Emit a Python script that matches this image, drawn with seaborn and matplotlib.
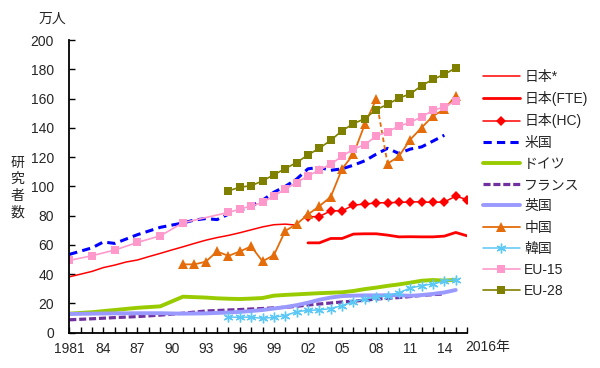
import numpy as np
import pandas as pd
import matplotlib
matplotlib.use("Agg")
import matplotlib.pyplot as plt
import seaborn as sns

# ---------------- data (万人) ----------------
jp_star_years = list(range(1981, 2002))
jp_star = [38.2, 40.0, 41.9, 44.5, 46.2, 48.3, 49.7, 52.0, 54.2, 56.5, 58.7,
           61.0, 63.2, 65.0, 66.5, 68.3, 70.3, 72.3, 73.8, 74.2, 73.5]

jp_fte_years = list(range(2002, 2017))
jp_fte = [61.4, 61.4, 64.4, 64.4, 67.4, 67.6, 67.6, 66.7, 65.5, 65.6, 65.5, 65.5, 66.0, 68.5, 66.2]

jp_hc_years = list(range(2002, 2017))
jp_hc = [79.2, 79.4, 83.3, 83.3, 87.2, 87.9, 88.7, 88.9, 89.0, 89.4, 89.4, 89.0, 89.4, 93.3, 91.0]

us_years = [1981, 1983, 1984, 1985, 1987, 1989, 1991, 1992, 1993, 1994, 1995, 1996, 1997, 1998,
            1999, 2000, 2001, 2002, 2003, 2004, 2005, 2006, 2007, 2008, 2009, 2010, 2011, 2012,
            2013, 2014]
us = [53.5, 58.0, 62.0, 61.0, 67.0, 72.0, 75.0, 77.0, 78.0, 77.3, 81.0, 83.5, 86.5, 90.5,
      96.0, 100.0, 105.0, 112.0, 113.0, 111.0, 112.0, 114.5, 117.5, 122.0, 126.0, 122.5, 125.5,
      127.0, 131.0, 135.0]

de_years = [1981, 1983, 1985, 1987, 1989, 1991, 1992, 1993, 1994, 1995, 1996, 1997, 1998, 1999,
            2000, 2001, 2002, 2003, 2004, 2005, 2006, 2007, 2008, 2009, 2010, 2011, 2012, 2013,
            2014, 2015]
de = [13.0, 14.0, 15.5, 17.0, 18.0, 24.6, 24.3, 24.0, 23.5, 23.2, 23.0, 23.3, 23.7, 25.3,
      25.8, 26.2, 26.6, 27.0, 27.3, 27.6, 28.5, 29.8, 30.8, 32.0, 33.0, 34.2, 35.5, 36.0,
      35.6, 36.2]

fr_years = [1981, 1983, 1985, 1987, 1989, 1991, 1993, 1995, 1996, 1997, 1998, 1999, 2000, 2001,
            2002, 2003, 2004, 2005, 2006, 2007, 2008, 2009, 2010, 2011, 2012, 2013, 2014]
fr = [8.8, 9.5, 10.3, 11.0, 12.0, 13.3, 14.8, 15.5, 15.8, 16.2, 16.5, 17.0, 17.3, 18.0,
      18.9, 19.6, 20.3, 21.0, 21.5, 22.2, 23.0, 23.5, 24.0, 24.7, 25.5, 26.0, 26.5]

uk_years = [1981, 1983, 1985, 1987, 1989, 1991, 1993, 1995, 1996, 1997, 1998, 1999, 2000, 2001,
            2002, 2003, 2004, 2005, 2006, 2007, 2008, 2009, 2010, 2011, 2012, 2013, 2014, 2015]
uk = [12.8, 13.0, 13.2, 13.3, 13.3, 13.0, 13.2, 13.8, 14.2, 14.8, 15.5, 16.5, 17.5, 18.8,
      20.5, 22.5, 24.0, 25.0, 25.3, 25.5, 25.5, 25.6, 25.6, 25.2, 25.7, 26.5, 27.5, 29.2]

cn_years_a = list(range(1991, 2009))
cn_a = [46.7, 46.7, 48.5, 55.5, 52.5, 55.5, 59.0, 48.8, 53.0, 69.6, 74.2, 80.8, 86.5, 92.8,
        112.0, 122.0, 142.5, 159.5]
cn_years_b = list(range(2009, 2016))
cn_b = [115.5, 120.6, 132.0, 140.2, 148.1, 152.7, 162.0]

kr_years = list(range(1995, 2016))
kr = [10.6, 10.6, 10.6, 9.8, 10.5, 11.7, 14.3, 15.3, 15.5, 16.5, 18.5, 21.2, 23.0, 24.3,
      25.3, 27.3, 30.5, 32.2, 33.3, 35.2, 36.2]

eu15_years = [1981, 1983, 1985, 1987, 1989, 1991] + list(range(1995, 2016))
eu15 = [49.4, 52.6, 56.5, 61.7, 66.2, 75.1, 82.2, 84.4, 86.7, 89.0, 93.5, 98.1, 102.6, 107.2,
        111.2, 115.2, 120.6, 125.4, 128.6, 134.3, 137.5, 141.1, 143.8, 147.5, 152.0, 154.3, 158.4]

eu28_years = list(range(1995, 2016))
eu28 = [96.9, 99.5, 100.4, 103.8, 107.9, 112.2, 116.3, 121.5, 126.1, 131.5, 138.1, 142.9,
        146.3, 152.5, 156.0, 160.4, 163.2, 168.9, 173.2, 176.6, 181.0]

xtick_years = [1981, 1984, 1987, 1990, 1993, 1996, 1999, 2002, 2005, 2008, 2011, 2014]
xtick_labels = ["1981", "84", "87", "90", "93", "96", "99", "02", "05", "08", "11", "14"]
last_label = "2016年"
ytick_vals = list(range(0, 201, 20))

# ---------------- style ----------------
sns.set_style("white")
plt.rcParams["font.family"] = ["Liberation Sans", "Noto Sans CJK JP", "DejaVu Sans"]

fig = plt.figure(figsize=(6.0, 3.68), dpi=100)
ax = fig.add_axes([0.1155, 0.096, 0.663, 0.795])

def draw(years, vals, label, **kw):
    df = pd.DataFrame({"year": years, "value": vals})
    sns.lineplot(data=df, x="year", y="value", ax=ax, label=label, errorbar=None,
                 sort=True, **kw)
    return ax.lines[-1]

h = {}
h["日本*"] = draw(jp_star_years, jp_star, "日本*", color="#FF0000", linewidth=1.1)
h["日本(FTE)"] = draw(jp_fte_years, jp_fte, "日本(FTE)", color="#FF0000", linewidth=2.0)
h["日本(HC)"] = draw(jp_hc_years, jp_hc, "日本(HC)", color="#FF0000", linewidth=1.1,
                    marker="D", markersize=5, markeredgewidth=0)
ln = draw(us_years, us, "米国", color="#0000FF", linewidth=2.2)
ln.set_dashes([2.7, 1.7])
h["米国"] = ln
h["ドイツ"] = draw(de_years, de, "ドイツ", color="#99CC00", linewidth=2.8)
ln = draw(fr_years, fr, "フランス", color="#7030A0", linewidth=2.3)
ln.set_dashes([2.2, 0.9])
h["フランス"] = ln
h["英国"] = draw(uk_years, uk, "英国", color="#9999FF", linewidth=2.8)
h["中国"] = draw(cn_years_a, cn_a, "中国", color="#E46C0A", linewidth=1.3,
                marker="^", markersize=6.5, markeredgewidth=0)
draw(cn_years_b, cn_b, "_nolegend_", color="#E46C0A", linewidth=1.3,
     marker="^", markersize=6.5, markeredgewidth=0)
ln = draw([cn_years_a[-1], cn_years_b[0]], [cn_a[-1], cn_b[0]], "_nolegend_",
          color="#E46C0A", linewidth=1.3)
ln.set_dashes([2.5, 1.8])
ln = draw(kr_years, kr, "韓国", color="#5BC8F5", linewidth=1.1)
ln.set_linestyle("-")
ln.set_marker((6, 2, 0))
ln.set_markersize(7)
ln.set_markeredgewidth(1.0)
ln.set_markeredgecolor("#5BC8F5")
h["韓国"] = ln
h["EU-15"] = draw(eu15_years, eu15, "EU-15", color="#FF99CC", linewidth=1.2,
                  marker="s", markersize=5.2, markeredgewidth=0)
h["EU-28"] = draw(eu28_years, eu28, "EU-28", color="#808000", linewidth=1.2,
                  marker="s", markersize=5.2, markeredgewidth=0)

# ---------------- axes ----------------
ax.set_xlim(1981, 2016)
ax.set_ylim(0, 200)
ax.set_xlabel("")
ax.set_ylabel("")
for s in ["top", "right"]:
    ax.spines[s].set_visible(False)
for s in ["left", "bottom"]:
    ax.spines[s].set_color("black")
    ax.spines[s].set_linewidth(1.3)

ax.set_xticks(xtick_years)
ax.set_xticklabels(xtick_labels)
ax.set_xticks(list(range(1981, 2017)), minor=True)
ax.set_yticks(ytick_vals)
ax.set_yticklabels([str(v) for v in ytick_vals])
ax.tick_params(axis="x", which="both", direction="in", length=4.5, width=1.0,
               labelsize=10, pad=7, bottom=True, color="black")
ax.tick_params(axis="y", which="major", direction="in", length=4.5, width=1.0,
               labelsize=10, pad=11, left=True, color="black")
ax.text(2015.85, -5.2, last_label, transform=ax.transData, ha="left", va="top",
        fontsize=10)

fig.text(0.087, 0.948, "万人", ha="center", va="center", fontsize=10)
fig.text(0.029, 0.49, "研\n究\n者\n数", ha="center", va="center", fontsize=10,
         linespacing=1.25)

order = ["日本*", "日本(FTE)", "日本(HC)", "米国", "ドイツ", "フランス", "英国",
         "中国", "韓国", "EU-15", "EU-28"]
leg = ax.legend([h[k] for k in order], order, loc="upper left",
                bbox_to_anchor=(0.795, 0.825), bbox_transform=fig.transFigure,
                frameon=False, fontsize=10, handlelength=2.7, handletextpad=0.3,
                labelspacing=0.52, borderaxespad=0, numpoints=1)

fig.savefig("out.png", dpi=100)
